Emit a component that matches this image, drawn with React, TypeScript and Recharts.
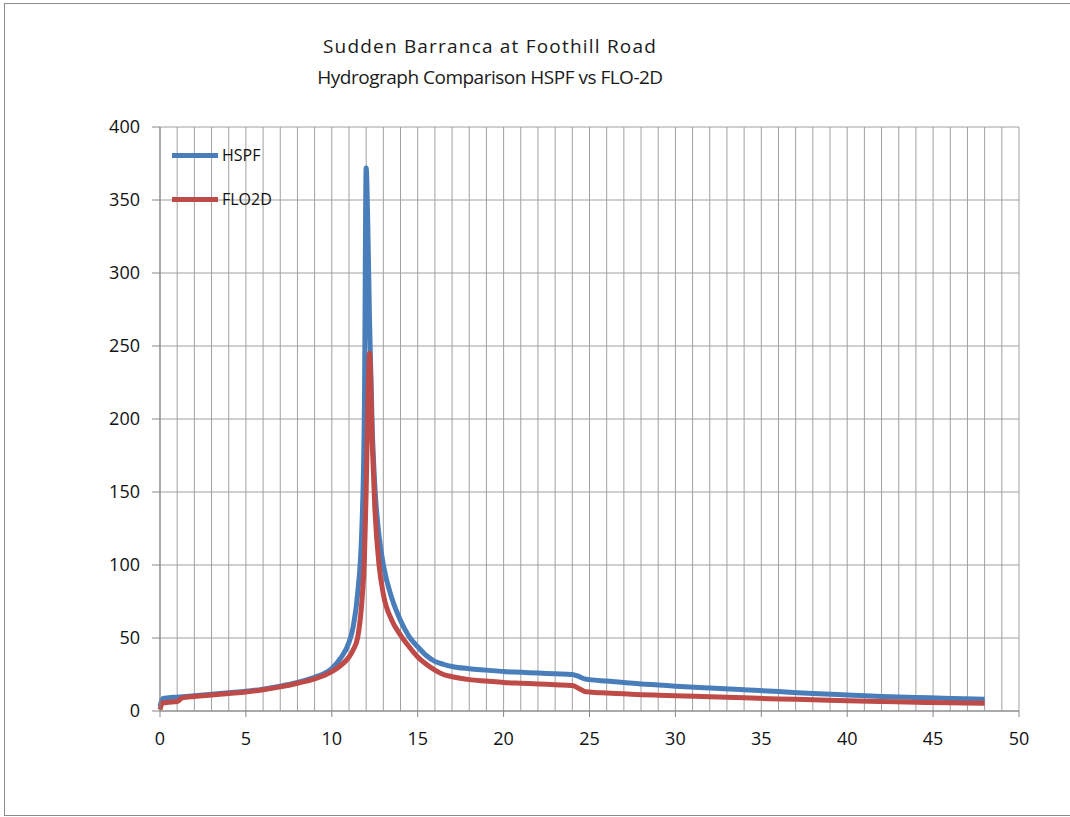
import { CartesianGrid, Legend, Line, LineChart, XAxis, YAxis } from 'recharts';

// hours since start of storm
const timeHours = [
  0, 0.15, 0.5, 1, 1.3, 2, 3, 4, 5, 6, 7, 8, 9, 10, 10.5, 11, 11.25, 11.5, 11.75, 11.9, 12, 12.1, 12.2, 12.35, 12.5,
  12.75, 13, 13.5, 14, 14.5, 15, 15.5, 16, 16.5, 17, 18, 19, 20, 21, 22, 23, 24, 24.3, 24.7, 25, 26, 27, 28, 29, 30,
  32, 34, 36, 38, 40, 42, 44, 46, 48,
];

// flow (cfs)
const hspfFlow = [
  3, 8.5, 9, 9.5, 9.8, 10.5, 11.5, 12.5, 13.5, 15, 17, 19.5, 23, 29, 36, 47, 58, 80, 125, 210, 372, 330, 265, 195, 155,
  120, 100, 77, 62, 51, 44, 38, 34, 32, 30.5, 29, 28, 27, 26.5, 26, 25.5, 25, 24, 22, 21.5, 20.5, 19.5, 18.5, 17.8, 17,
  15.7, 14.5, 13.3, 12, 11, 10, 9.3, 8.6, 8,
];

const flo2dFlow = [
  1, 5.5, 6, 6.5, 9, 10, 11, 12, 13, 14.5, 16.5, 19, 22, 27, 31, 37, 42, 50, 75, 105, 150, 210, 245, 185, 140,
  100, 80, 62, 52, 44, 37, 32, 28, 25, 23.5, 21.5, 20.5, 19.5, 19, 18.5, 18, 17.5, 16, 13.5, 13, 12.3, 11.8, 11.2, 10.8, 10.5,
  9.7, 9, 8.3, 7.7, 7, 6.5, 6, 5.6, 5.3,
];

const seriesNames = ['HSPF', 'FLO2D'];
const xGridTicks = Array.from({ length: 51 }, (_, i) => i);
const xLabelStep = 5;
const yTicks = [0, 50, 100, 150, 200, 250, 300, 350, 400];

const FONT = '"Open Sans", "Liberation Sans", sans-serif';
const BLUE = '#4a7ebb';
const RED = '#be4b48';
const GRID = '#a0a0a0';
const AXIS = '#868686';

const data = timeHours.map((t, i) => ({ t, hspf: hspfFlow[i], flo2d: flo2dFlow[i] }));

function XTick({ x, y, payload }: any) {
  if (payload.value % xLabelStep !== 0) return null;
  return (
    <g>
      <line x1={x} x2={x} y1={y - 6} y2={y} stroke={AXIS} />
      <text x={x} y={y + 15} dy="0.71em" textAnchor="middle" fill="#111" fontSize={18} fontFamily={FONT}>
        {payload.value}
      </text>
    </g>
  );
}

function LegendBox({ payload }: any) {
  const items = [...(payload || [])].sort(
    (a: any, b: any) => seriesNames.indexOf(a.value) - seriesNames.indexOf(b.value)
  );
  return (
    <div style={{ fontFamily: FONT, fontSize: 16, color: '#111' }}>
      {items.map((item: any) => (
        <div key={item.value} style={{ display: 'flex', alignItems: 'center', height: 44 }}>
          <span style={{ display: 'inline-block', width: 46, height: 5, background: item.color, marginRight: 4 }} />
          <span>{item.value}</span>
        </div>
      ))}
    </div>
  );
}

export default function App() {
  return (
    <div
      style={{
        position: 'absolute',
        left: 4,
        top: 3,
        width: 1070,
        height: 811,
        border: '1px solid #8c8c8c',
        background: '#fff',
      }}
    >
      <div
        style={{
          position: 'absolute',
          left: 0,
          top: 27,
          width: 970,
          textAlign: 'center',
          fontFamily: FONT,
          fontSize: 19,
          lineHeight: '31px',
          color: '#1a1a1a',
          zIndex: 1,
        }}
      >
        <div style={{ letterSpacing: 1.2 }}>Sudden Barranca at Foothill Road</div>
        <div style={{ letterSpacing: -0.5 }}>Hydrograph Comparison HSPF vs FLO-2D</div>
      </div>
      <LineChart width={1064} height={810} data={data} margin={{ top: 123, right: 50, bottom: 73, left: 95 }}>
        <CartesianGrid stroke={GRID} />
        <XAxis
          dataKey="t"
          type="number"
          domain={[0, 50]}
          ticks={xGridTicks}
          interval={0}
          height={30}
          tickSize={6}
          tickMargin={0}
          tickLine={false}
          tick={<XTick />}
          stroke={AXIS}
        />
        <YAxis
          type="number"
          domain={[0, 400]}
          ticks={yTicks}
          width={60}
          tickSize={8}
          tickMargin={12}
          stroke={AXIS}
          tick={{ fill: '#111', fontSize: 18, fontFamily: FONT }}
        />
        <Legend
          layout="vertical"
          align="center"
          verticalAlign="middle"
          wrapperStyle={{ left: 167, top: 129, width: 120 }}
          content={<LegendBox />}
        />
        <Line
          type="monotone"
          dataKey="hspf"
          name="HSPF"
          stroke={BLUE}
          strokeWidth={5}
          dot={false}
          isAnimationActive={false}
        />
        <Line
          type="monotone"
          dataKey="flo2d"
          name="FLO2D"
          stroke={RED}
          strokeWidth={5}
          dot={false}
          isAnimationActive={false}
        />
      </LineChart>
    </div>
  );
}
